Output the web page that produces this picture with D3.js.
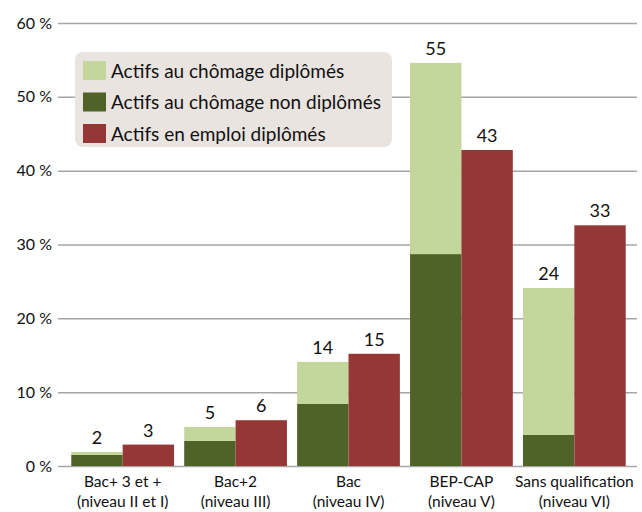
<!DOCTYPE html>
<html>
<head>
<meta charset="utf-8">
<script src="https://cdn.jsdelivr.net/npm/d3@7"></script>
<style>
  body { margin: 0; background: #fff; }
  text { font-family: Lato, "Open Sans", sans-serif; fill: #111; }
</style>
</head>
<body>
<svg id="chart"></svg>
<script>
// data
const categories = ["Bac+ 3 et +|(niveau II et I)", "Bac+2|(niveau III)", "Bac|(niveau IV)", "BEP-CAP|(niveau V)", "Sans qualification|(niveau VI)"];
const chomageNonDiplomes = [1.5, 3.4, 8.4, 28.7, 4.2];
const chomageDiplomes = [0.4, 1.9, 5.7, 25.9, 19.9];
const emploiDiplomes = [2.9, 6.2, 15.2, 42.8, 32.6];
const yTicks = [0, 10, 20, 30, 40, 50, 60];
const legendLabels = ["Actifs au chômage diplômés", "Actifs au chômage non diplômés", "Actifs en emploi diplômés"];
const colors = ["#c3d69b", "#4f6228", "#953735"];

const width = 642, height = 512;
const gridLeft = 58, gridRight = 637;

const svg = d3.select("#chart").attr("width", width).attr("height", height);

const x = d3.scaleBand().domain(categories).range([60, 637]).paddingInner(0.09).paddingOuter(0.1);
const sub = d3.scaleBand().domain([0, 1]).range([0, x.bandwidth()]);
const y = d3.scaleLinear().domain([0, 60]).range([466, 23]);

// grid + y labels
const yAxis = svg.append("g")
    .attr("transform", `translate(${gridLeft},0)`)
    .call(d3.axisLeft(y).tickValues(yTicks).tickSize(-(gridRight - gridLeft)).tickPadding(6).tickFormat(d => d + " %"));
yAxis.select(".domain").remove();
yAxis.selectAll("line").attr("stroke", "#a6a6a6").attr("stroke-width", 1.5);
yAxis.selectAll("text").attr("font-size", 16).attr("fill", "#111").style("font-family", "Lato, sans-serif");

const stacked = categories.map((c, i) => ({ c, dark: chomageNonDiplomes[i], light: chomageDiplomes[i], red: emploiDiplomes[i] }));

const g = svg.append("g");
const groups = g.selectAll("g.cat").data(stacked).join("g")
    .attr("transform", d => `translate(${x(d.c)},0)`);

groups.append("rect")
    .attr("x", sub(0)).attr("width", sub.bandwidth())
    .attr("y", d => y(d.dark)).attr("height", d => y(0) - y(d.dark))
    .attr("fill", colors[1]);
groups.append("rect")
    .attr("x", sub(0)).attr("width", sub.bandwidth())
    .attr("y", d => y(d.dark + d.light)).attr("height", d => y(d.dark) - y(d.dark + d.light))
    .attr("fill", colors[0]);
groups.append("rect")
    .attr("x", sub(1)).attr("width", sub.bandwidth())
    .attr("y", d => y(d.red)).attr("height", d => y(0) - y(d.red))
    .attr("fill", colors[2]);

// value labels
groups.append("text")
    .attr("x", sub(0) + sub.bandwidth() / 2)
    .attr("y", d => y(d.dark + d.light) - 8)
    .attr("text-anchor", "middle").attr("font-size", 18)
    .text(d => Math.round(d.dark + d.light));
groups.append("text")
    .attr("x", sub(1) + sub.bandwidth() / 2)
    .attr("y", d => y(d.red) - 8)
    .attr("text-anchor", "middle").attr("font-size", 18)
    .text(d => Math.round(d.red));

// x labels
const xl = svg.append("g");
categories.forEach(c => {
    const cx = x(c) + x.bandwidth() / 2;
    const t = xl.append("text").attr("text-anchor", "middle").attr("font-size", 15.5);
    c.split("|").forEach((line, k) => {
        t.append("tspan").attr("x", cx).attr("y", 487 + k * 20).text(line);
    });
});

// legend
const legend = svg.append("g");
legend.append("rect")
    .attr("x", 75).attr("y", 52).attr("width", 317).attr("height", 95)
    .attr("rx", 8).attr("fill", "#eae4e0");
legendLabels.forEach((l, i) => {
    legend.append("rect").attr("x", 83).attr("y", 61 + i * 31.5).attr("width", 23).attr("height", 19).attr("fill", colors[i]);
    legend.append("text").attr("x", 111).attr("y", 77.5 + i * 31.5).attr("font-size", 19).text(l);
});
</script>
</body>
</html>
